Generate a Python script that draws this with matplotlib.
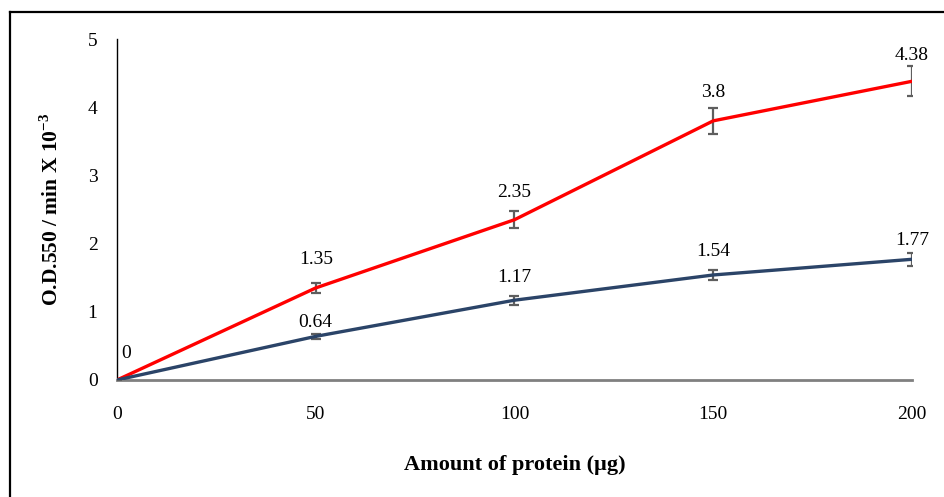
import numpy as np
import matplotlib
matplotlib.use('Agg')
import matplotlib.pyplot as plt
from matplotlib.lines import Line2D

plt.rcParams['font.family'] = ['Liberation Serif', 'DejaVu Serif']
plt.rcParams['mathtext.fontset'] = 'custom'
plt.rcParams['mathtext.rm'] = 'Liberation Serif'
plt.rcParams['mathtext.bf'] = 'Liberation Serif:bold'

# data
protein = [0, 50, 100, 150, 200]
red_vals = [0, 1.35, 2.35, 3.8, 4.38]
red_err = [0, 0.07, 0.125, 0.19, 0.22]
blue_vals = [0, 0.64, 1.17, 1.54, 1.77]
blue_err = [0, 0.035, 0.065, 0.08, 0.095]
red_labels = ['0', '1.35', '2.35', '3.8', '4.38']
blue_labels = ['', '0.64', '1.17', '1.54', '1.77']
yticks = [0, 1, 2, 3, 4, 5]
xticks = [0, 50, 100, 150, 200]

fig = plt.figure(figsize=(9.45, 4.97), dpi=100)
ax = fig.add_axes([117 / 945, 117 / 497, 795 / 945, 341 / 497])

err_col = '#5E5E5E'
ax.errorbar(protein, red_vals, yerr=red_err, color='#FF0000', lw=2.4,
            ecolor=err_col, elinewidth=1.6, capsize=3.5, capthick=1.6, zorder=3)
ax.errorbar(protein, blue_vals, yerr=blue_err, color='#2B4468', lw=2.4,
            ecolor=err_col, elinewidth=1.6, capsize=3.5, capthick=1.6, zorder=3)

# label offsets in pixels (x, y)
red_off = [(9, 27), (0, 28), (0, 27), (0, 28), (0, 26)]
blue_off = [(0, 0), (0, 14), (0, 23), (0, 23), (0, 19)]
for x, y, t, o in zip(protein, red_vals, red_labels, red_off):
    ax.annotate(t, (x, y), xytext=(o[0] * 0.72, o[1] * 0.72), textcoords='offset points',
                ha='center', va='center', fontsize=14, annotation_clip=False)
for x, y, t, o in zip(protein, blue_vals, blue_labels, blue_off):
    if t:
        ax.annotate(t, (x, y), xytext=(o[0] * 0.72, o[1] * 0.72), textcoords='offset points',
                    ha='center', va='center', fontsize=14, annotation_clip=False)

ax.set_xlim(0, 200)
ax.set_ylim(0, 5)
ax.set_xticks(xticks)
ax.set_yticks(yticks)
ax.tick_params(axis='both', length=0, labelsize=14)
ax.tick_params(axis='y', pad=14)
ax.tick_params(axis='x', pad=19)

for s in ['top', 'right']:
    ax.spines[s].set_visible(False)
ax.spines['left'].set_color('black')
ax.spines['left'].set_linewidth(1.0)
ax.spines['bottom'].set_color('#808080')
ax.spines['bottom'].set_linewidth(2.0)

ax.set_ylabel(r'O.D.550 / min X 10$^{\mathbf{-3}}$', fontsize=15.5, fontweight='bold')
ax.yaxis.set_label_coords(-0.068, 0.5)
ax.set_xlabel('Amount of protein (µg)', fontsize=16, fontweight='bold')
ax.xaxis.set_label_coords(0.5, -0.25)
ax.xaxis.label.set_va('center')

# outer frame (left and top only visible in the crop)
fig.add_artist(Line2D([10 / 945, 10 / 945], [0, 1 - 12 / 497], color='black', lw=1.6,
                      transform=fig.transFigure))
fig.add_artist(Line2D([10 / 945, 1], [1 - 12 / 497, 1 - 12 / 497], color='black', lw=1.6,
                      transform=fig.transFigure))

fig.savefig('out.png', dpi=100)
